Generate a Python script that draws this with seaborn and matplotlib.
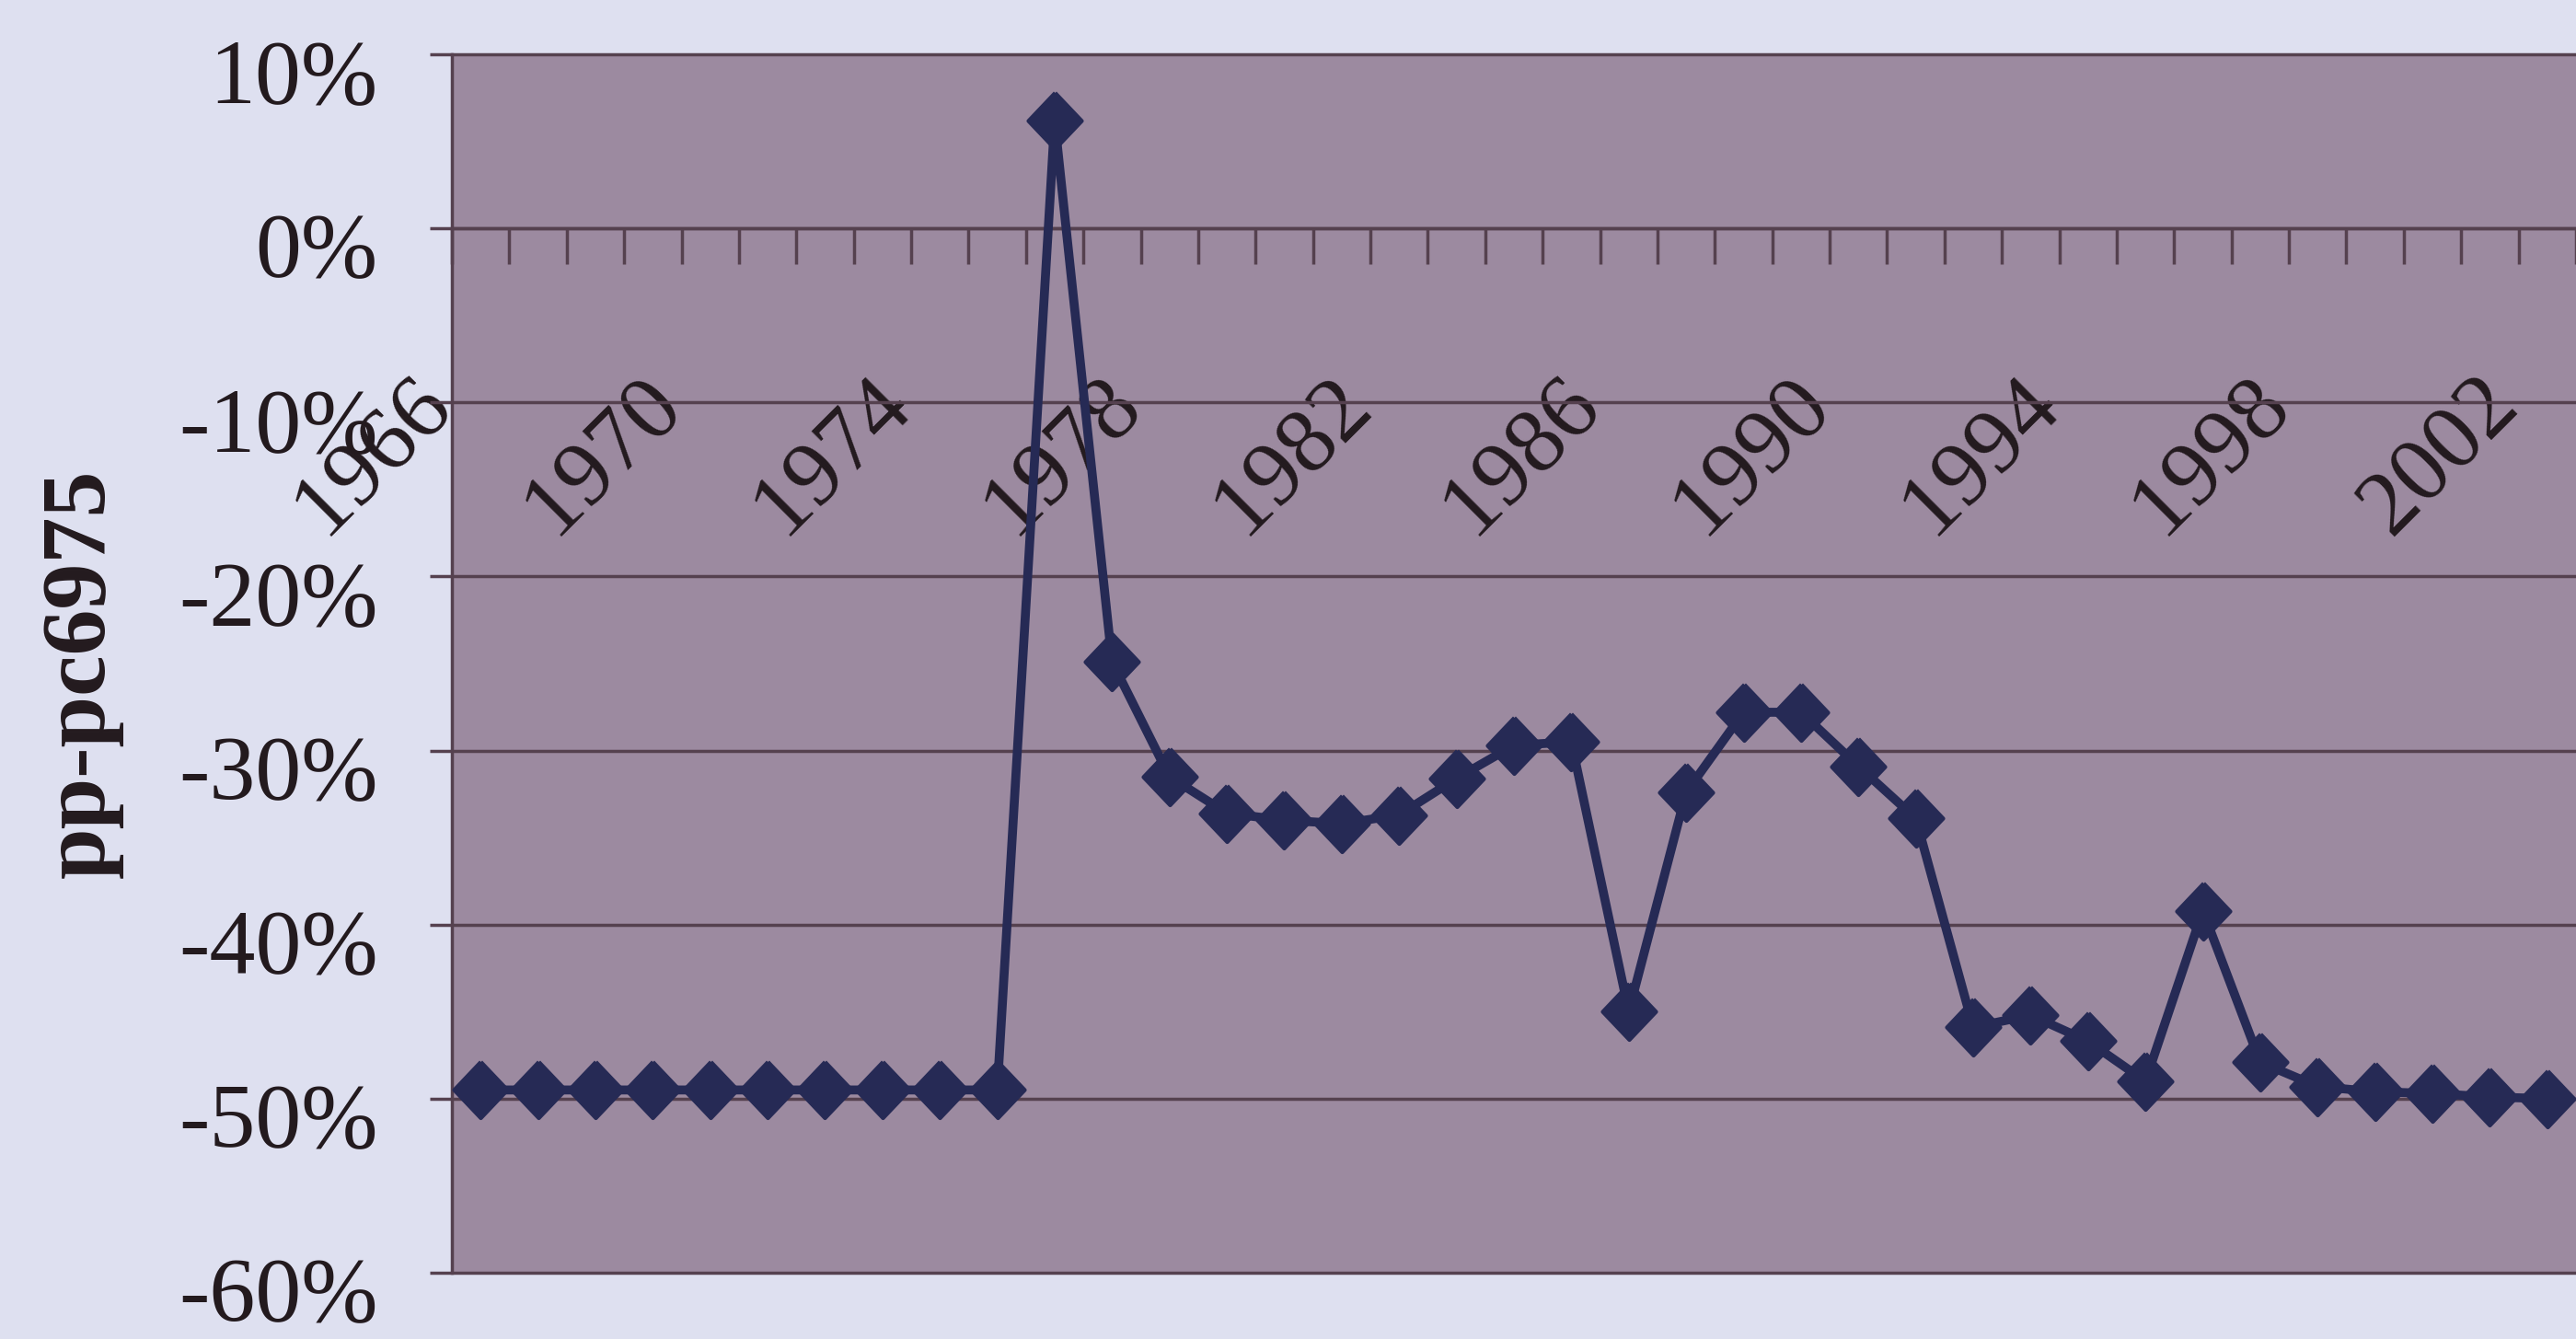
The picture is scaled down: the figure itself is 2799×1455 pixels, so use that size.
import matplotlib
matplotlib.use("Agg")
import matplotlib.pyplot as plt
import matplotlib.transforms as mtransforms
from matplotlib.ticker import FuncFormatter
import pandas as pd
import seaborn as sns

# gap series, in percent
years = [1966, 1967, 1968, 1969, 1970, 1971, 1972, 1973, 1974, 1975,
         1976, 1977, 1978, 1979, 1980, 1981, 1982, 1983, 1984, 1985,
         1986, 1987, 1988, 1989, 1990, 1991, 1992, 1993, 1994, 1995,
         1996, 1997, 1998, 1999, 2000, 2001, 2002]
gap_pct = [-49.5, -49.5, -49.5, -49.5, -49.5, -49.5, -49.5, -49.5, -49.5, -49.5,
           6.2, -24.9, -31.5, -33.6, -34.0, -34.2, -33.7, -31.6, -29.7, -29.5,
           -45.0, -32.4, -27.8, -27.8, -30.9, -33.9, -45.9, -45.2, -46.7, -49.0,
           -39.2, -47.9, -49.3, -49.6, -49.7, -49.9, -50.0]
label_years = [1966, 1970, 1974, 1978, 1982, 1986, 1990, 1994, 1998, 2002]
y_ticks = [-60, -50, -40, -30, -20, -10, 0, 10]

PAGE = "#dee0f0"
FACE = "#9c8aa0"
GRID = "#55414f"
LINE = "#262a55"
TEXT = "#231a1e"

sns.set_style("white")
plt.rcParams["font.family"] = ["Liberation Serif", "DejaVu Serif"]

fig = plt.figure(figsize=(27.99, 14.55), dpi=100, facecolor=PAGE)
ax = fig.add_axes([491 / 2799, 72 / 1455, 1 - 491 / 2799, 1324 / 1455])
ax.set_facecolor(FACE)

df = pd.DataFrame({"year": years, "gap": gap_pct})
diamond = [(0, 1), (0.95, 0), (0, -1), (-0.95, 0), (0, 1)]
sns.lineplot(data=df, x="year", y="gap", ax=ax, color=LINE, linewidth=7,
             marker=diamond, markersize=44, markeredgecolor=LINE,
             markeredgewidth=3, markerfacecolor=LINE, zorder=5)

ax.set_xlim(1965.5, 2002.32)
ax.set_ylim(-60, 10)

# y axis
ax.set_yticks(y_ticks)
ax.yaxis.set_major_formatter(FuncFormatter(lambda v, p: f"{int(round(v))}%"))
ax.tick_params(axis="y", which="major", left=True, length=17, width=2.5,
               color=GRID, pad=41, labelsize=72, labelcolor=TEXT)
for lbl in ax.get_yticklabels():
    lbl.set_transform(lbl.get_transform() +
                      mtransforms.ScaledTranslation(0, -0.18, fig.dpi_scale_trans))
ax.yaxis.grid(True, color=GRID, linewidth=2.5)
for gl in ax.get_ygridlines():
    gl.set_clip_on(False)

ax.set_ylabel("pp-pc6975", fontsize=72, fontweight="bold", color=TEXT)
ax.yaxis.set_label_coords(-0.1547, 0.492)

# x axis crosses at 0 with tick marks between categories
ax.spines["bottom"].set_position(("data", 0))
for s in ["top", "right"]:
    ax.spines[s].set_visible(False)
for s in ["left", "bottom"]:
    ax.spines[s].set_color(GRID)
    ax.spines[s].set_linewidth(2.5)

ax.set_xticks([y - 0.5 for y in years] + [years[-1] + 0.5])
ax.set_xticks(label_years, labels=[str(y) for y in label_years], minor=True)
ax.tick_params(axis="x", which="major", bottom=True, length=28, width=2.5,
               direction="out", color=GRID, labelbottom=False)
ax.tick_params(axis="x", which="minor", bottom=True, length=0, pad=104,
               labelsize=72, labelcolor=TEXT)
for lbl in ax.get_xticklabels(minor=True):
    lbl.set_rotation(45)
    lbl.set_ha("right")
    lbl.set_va("top")
    lbl.set_rotation_mode("anchor")
    lbl.set_transform(lbl.get_transform() +
                      mtransforms.ScaledTranslation(-0.78, 0, fig.dpi_scale_trans))
ax.set_xlabel("")

fig.savefig("out.png", dpi=100, facecolor=PAGE)
